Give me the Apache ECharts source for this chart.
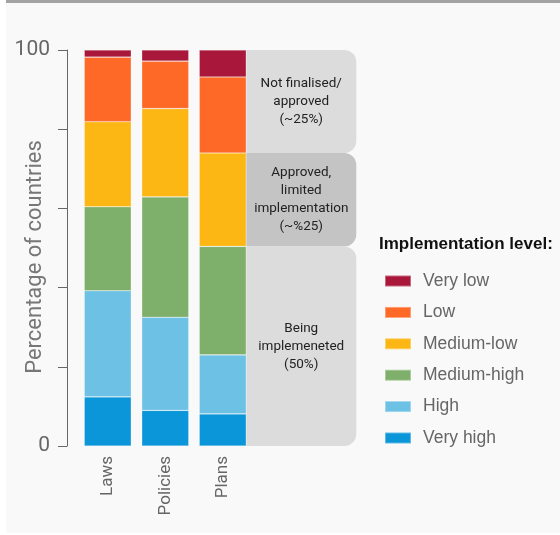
<!DOCTYPE html>
<html>
<head>
<meta charset="utf-8">
<script src="https://cdn.jsdelivr.net/npm/echarts@6/dist/echarts.min.js"></script>
<style>
html,body{margin:0;padding:0;background:#ffffff;}
#chart{width:560px;height:535px;}
</style>
</head>
<body>
<div id="chart"></div>
<script>
// ---- data ----
const categories = ['Laws', 'Policies', 'Plans'];
const veryHigh   = [12.4, 9.0, 8.1];
const high       = [26.8, 23.5, 14.9];
const mediumHigh = [21.2, 30.4, 27.4];
const mediumLow  = [21.5, 22.3, 23.6];
const low        = [16.3, 12.0, 19.2];
const veryLow    = [1.8, 2.8, 6.8];
const yTickLabels = [0, 100];

// annotation boxes next to "Plans" (value ranges)
const boxLabels = ['Not finalised/\napproved\n(~25%)', 'Approved,\nlimited\nimplementation\n(~%25)', 'Being\nimplemeneted\n(50%)'];
const boxLow  = [74.0, 50.4, 0];
const boxHigh = [100, 74.0, 50.4];

const seriesNames = ['Very high', 'High', 'Medium-high', 'Medium-low', 'Low', 'Very low'];
const seriesData  = [veryHigh, high, mediumHigh, mediumLow, low, veryLow];
const colors = ['#0a96d8', '#6cc1e5', '#7eaf6b', '#fcb714', '#fe6927', '#a9173a'];
const boxColors = ['#dcdcdc', '#c4c4c4', '#dcdcdc'];

const chart = echarts.init(document.getElementById('chart'), null, {renderer: 'canvas'});
const BAR_W = 47;
const BOX_W = 110;

const series = seriesNames.map((n, i) => ({
  name: n,
  type: 'bar',
  stack: 'total',
  barWidth: BAR_W,
  data: seriesData[i],
  itemStyle: {color: colors[i], borderColor: 'rgba(255,255,255,0.35)', borderWidth: 0.6},
  emphasis: {disabled: true}
}));

series.push({
  type: 'custom',
  name: 'boxes',
  clip: false,
  silent: true,
  encode: {x: 0, y: [1, 2]},
  data: boxLabels.map((t, i) => [2, boxLow[i], boxHigh[i], i]),
  renderItem: function (params, api) {
    const idx = api.value(3);
    const top = api.coord([api.value(0), api.value(2)]);
    const bot = api.coord([api.value(0), api.value(1)]);
    const x0 = top[0] + BAR_W / 2;
    const h = bot[1] - top[1];
    return {
      type: 'group',
      children: [
        {type: 'rect', shape: {x: x0, y: top[1], width: BOX_W, height: h, r: [0, 12, 12, 0]},
         style: {fill: boxColors[idx]}},
        {type: 'text', x: x0 + BOX_W / 2, y: top[1] + h / 2,
         style: {text: boxLabels[idx], align: 'center', verticalAlign: 'middle',
                 font: '13.5px Roboto', fill: '#222', lineHeight: 18}}
      ]
    };
  }
});

chart.setOption({
  animation: false,
  backgroundColor: '#ffffff',
  graphic: [
    {type: 'rect', z: -10, shape: {x: 6, y: 0, width: 554, height: 533}, style: {fill: '#f9f9f9'}},
    {type: 'rect', z: -9, shape: {x: 6, y: 0, width: 554, height: 3}, style: {fill: '#a3a3a3'}}
  ],
  title: {
    text: 'Implementation level:',
    left: 374, top: 231,
    textStyle: {fontFamily: 'Liberation Sans', fontWeight: 'bold', fontSize: 17, color: '#111'}
  },
  legend: {
    orient: 'vertical',
    left: 379, top: 267,
    data: ['Very low', 'Low', 'Medium-low', 'Medium-high', 'High', 'Very high'],
    icon: 'rect',
    itemWidth: 26, itemHeight: 11,
    itemGap: 13.4,
    textStyle: {fontFamily: 'Liberation Sans', fontSize: 17.5, color: '#666', padding: [0, 0, 0, 7]}
  },
  grid: {left: 79, top: 50, width: 172.5, height: 396, containLabel: false, outerBoundsMode: 'none'},
  xAxis: {
    type: 'category',
    data: categories,
    axisLine: {show: false},
    axisTick: {show: false},
    axisLabel: {rotate: 90, margin: 10, fontFamily: 'Roboto', fontSize: 17, color: '#666'}
  },
  yAxis: {
    type: 'value',
    min: 0, max: 100, interval: 20,
    offset: 12,
    name: 'Percentage of countries',
    nameLocation: 'middle',
    nameGap: 21,
    nameMoveOverlap: false,
    nameTextStyle: {fontFamily: 'Roboto', fontSize: 22, color: '#777', padding: [0, 18, 0, 0]},
    axisLine: {show: true, lineStyle: {color: '#666', width: 1}},
    axisTick: {show: true, length: 9, lineStyle: {color: '#666'}},
    splitLine: {show: false},
    axisLabel: {
      margin: 17, fontFamily: 'Roboto', fontSize: 21, color: '#666',
      formatter: v => (yTickLabels.indexOf(v) >= 0 ? String(v) : '')
    }
  },
  series: series
});
</script>
</body>
</html>
